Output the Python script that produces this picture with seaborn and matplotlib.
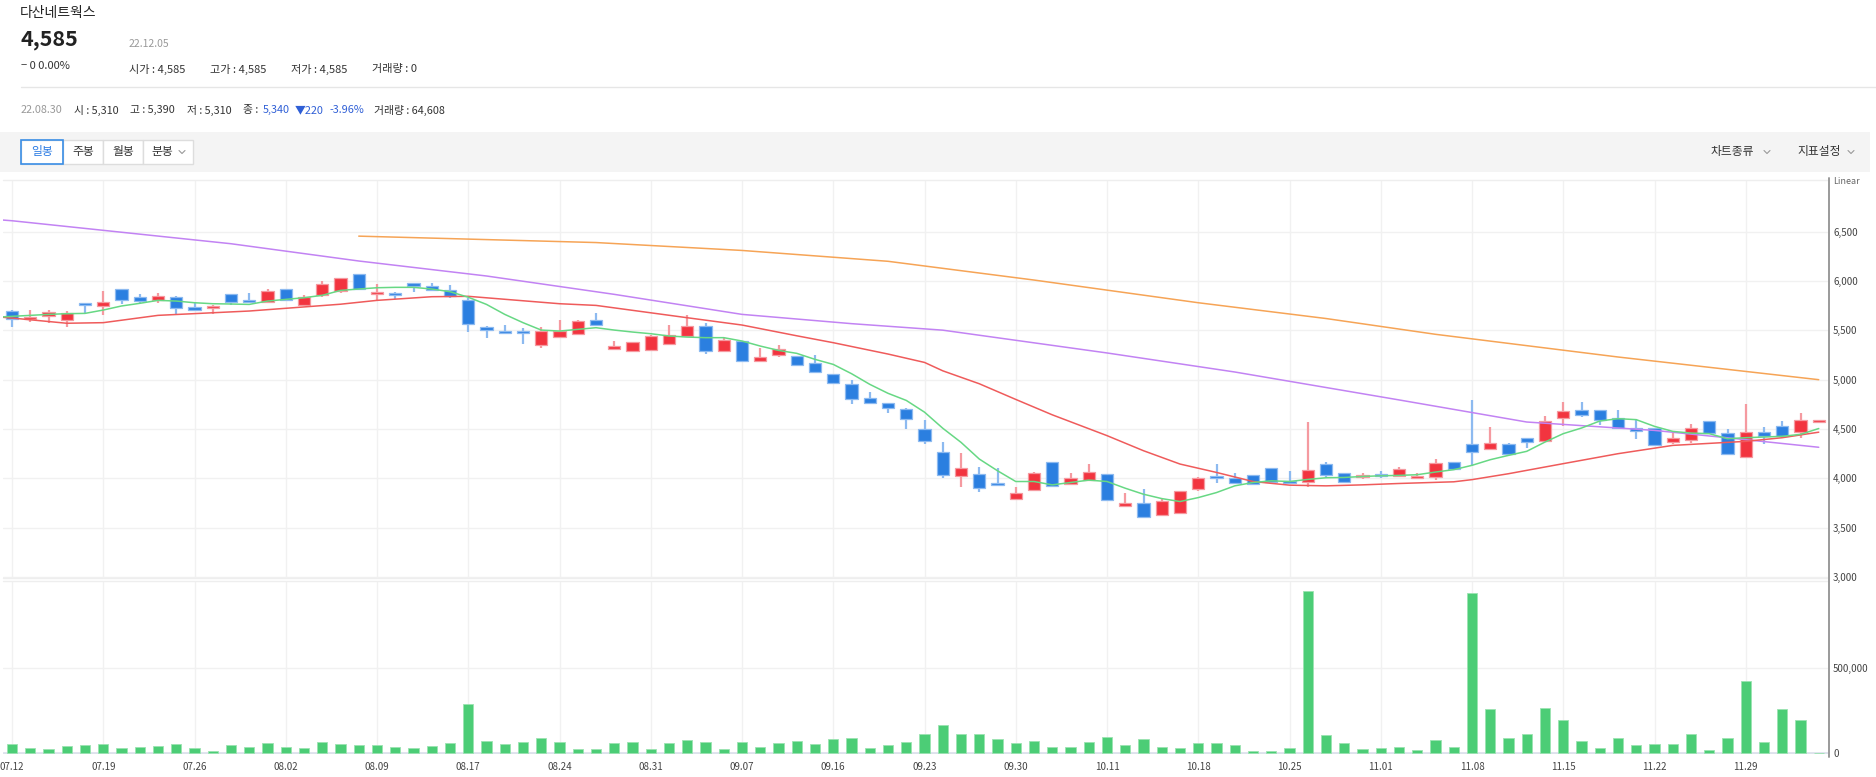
import numpy as np
import pandas as pd
import matplotlib
matplotlib.use("Agg")
import matplotlib.pyplot as plt
import seaborn as sns
from matplotlib.lines import Line2D
from matplotlib.patches import Rectangle

sns.set_theme(style="white")
plt.rcParams['font.family'] = ['Noto Sans CJK KR', 'DejaVu Sans']

# ---------------- data ----------------
dates = ["07.12","07.13","07.14","07.15","07.18","07.19","07.20","07.21","07.22","07.25",
         "07.26","07.27","07.28","07.29","08.01","08.02","08.03","08.04","08.05","08.08",
         "08.09","08.10","08.11","08.12","08.16","08.17","08.18","08.19","08.22","08.23",
         "08.24","08.25","08.26","08.29","08.30","08.31","09.01","09.02","09.05","09.06",
         "09.07","09.08","09.13","09.14","09.15","09.16","09.19","09.20","09.21","09.22",
         "09.23","09.26","09.27","09.28","09.29","09.30","10.04","10.05","10.06","10.07",
         "10.11","10.12","10.13","10.14","10.17","10.18","10.19","10.20","10.21","10.24",
         "10.25","10.26","10.27","10.28","10.31","11.01","11.02","11.03","11.04","11.07",
         "11.08","11.09","11.10","11.11","11.14","11.15","11.16","11.17","11.18","11.21",
         "11.22","11.23","11.24","11.25","11.28","11.29","11.30","12.01","12.02","12.05"]

opens = [5700,5615,5650,5600,5775,5750,5915,5835,5810,5835,
         5735,5730,5865,5805,5790,5915,5755,5855,5895,6075,
         5865,5870,5980,5945,5905,5805,5535,5490,5485,5355,
         5435,5465,5605,5315,5290,5305,5365,5445,5540,5290,
         5395,5190,5255,5245,5170,5060,4960,4815,4765,4705,
         4505,4265,4025,4040,3955,3790,3880,4170,3945,3985,
         4040,3715,3755,3625,3650,3890,4005,4005,4030,4105,
         3965,3960,4150,4050,4010,4035,4020,4005,4015,4165,
         4350,4300,4350,4410,4380,4615,4695,4695,4610,4510,
         4515,4370,4390,4580,4460,4215,4465,4535,4470,4585]
highs = [5705,5705,5705,5695,5780,5900,5915,5865,5880,5850,
         5775,5760,5865,5880,5915,5915,5860,6000,6035,6075,
         5965,5890,5980,5985,5960,5830,5540,5555,5525,5535,
         5600,5610,5680,5390,5380,5455,5555,5655,5575,5425,
         5395,5320,5350,5245,5255,5060,5000,4880,4765,4715,
         4590,4370,4255,4120,4100,3915,4060,4170,4050,4145,
         4040,3850,3890,3790,3870,4015,4150,4050,4030,4105,
         4070,4575,4165,4050,4055,4070,4110,4055,4200,4170,
         4790,4525,4360,4410,4630,4775,4775,4695,4695,4605,
         4515,4460,4555,4580,4500,4750,4520,4580,4665,4585]
lows = [5535,5585,5575,5535,5670,5655,5770,5775,5780,5660,
        5705,5670,5755,5790,5790,5795,5745,5840,5880,5915,
        5805,5815,5890,5905,5830,5485,5425,5465,5360,5320,
        5435,5465,5555,5315,5290,5305,5365,5445,5265,5290,
        5180,5190,5235,5140,5075,4965,4750,4760,4660,4505,
        4350,4000,3915,3860,3930,3790,3880,3910,3945,3985,
        3780,3715,3605,3625,3635,3870,3955,3950,3940,3960,
        3950,3910,4010,3965,3995,4000,4015,4005,3980,4080,
        4130,4300,4245,4310,4380,4535,4620,4545,4500,4400,
        4340,4350,4360,4460,4250,4210,4350,4410,4410,4585]
closes = [5620,5635,5690,5680,5760,5790,5805,5795,5845,5730,
          5705,5745,5790,5790,5900,5805,5840,5965,6035,5915,
          5890,5855,5945,5905,5850,5560,5505,5475,5470,5490,
          5495,5590,5555,5340,5380,5445,5450,5540,5290,5400,
          5190,5235,5315,5150,5075,4965,4800,4760,4715,4600,
          4375,4035,4100,3900,3930,3850,4050,3925,4000,4060,
          3780,3755,3605,3775,3870,4005,4000,3950,3940,3960,
          3950,4080,4035,3965,4035,4020,4090,4020,4160,4090,
          4270,4355,4245,4370,4580,4680,4645,4590,4515,4485,
          4340,4410,4515,4460,4250,4465,4425,4425,4590,4585]
volumes = [55000,31000,25000,43000,49000,55000,31000,37000,43000,55000,
           31000,14000,49000,37000,59000,37000,31000,67000,55000,49000,
           49000,37000,31000,43000,59000,290000,73000,55000,67000,90000,
           67000,25000,25000,59000,64608,25000,61000,78000,67000,25000,
           67000,37000,61000,73000,55000,84000,90000,31000,49000,67000,
           116000,165000,112000,116000,84000,61000,73000,37000,37000,67000,
           96000,49000,84000,37000,31000,59000,59000,49000,14000,14000,
           31000,953000,106000,61000,25000,31000,37000,20000,78000,37000,
           943000,259000,90000,112000,265000,196000,73000,31000,90000,49000,
           55000,55000,112000,20000,90000,424000,67000,259000,196000,0]

# moving averages (day index, value)
ma5_x = [-1,0,1,2,3,4,5,6,7,8,9,10,11,12,13,14,15,16,17,18,19,20,21,22,23,24,25,26,27,28,29,
         30,31,32,33,34,35,36,37,38,39,40,41,42,43,44,45,46,47,48,49,50,51,52,53,54,55,56,57,58,59,
         60,61,62,63,64,65,66,67,68,69,70,71,72,73,74,75,76,77,78,79,80,81,82,83,84,85,86,87,88,89,
         90,91,92,93,94,95,96,97,98,99]
ma5_y = [5632,5642,5652,5662,5669,5672,5706,5747,5774,5804,5797,5780,5770,5767,5763,5797,5814,5831,
         5855,5905,5919,5932,5936,5936,5919,5892,5836,5763,5662,5578,5503,5493,5510,5527,5503,5483,
         5466,5443,5432,5426,5426,5392,5341,5297,5267,5206,5155,5061,4953,4862,4790,4671,4508,4365,
         4196,4077,3968,3968,3934,3958,3982,3968,3900,3839,3795,3765,3805,3856,3924,3958,3975,3968,
         3989,4006,4009,4019,4026,4030,4037,4064,4088,4132,4189,4233,4274,4368,4453,4510,4581,4605,
         4595,4527,4476,4459,4453,4402,4412,4419,4426,4446,4505]
ma20_x = [-1,0,3,5,8,13,18,20,23,25,30,32,37,40,43,45,48,50,51,53,55,57,60,62,64,66,68,70,72,74,
          76,79,80,82,85,88,91,95,97,99]
ma20_y = [5640,5625,5572,5578,5652,5696,5765,5804,5841,5845,5770,5753,5628,5554,5445,5375,5260,
          5175,5090,4959,4800,4644,4433,4280,4145,4060,3968,3931,3924,3934,3948,3965,3987,4047,
          4149,4250,4334,4375,4412,4468]
ma60_x = [-1,0,12,19,26,33,40,46,51,60,67,76,83,90,95,99]
ma60_y = [6625,6611,6378,6203,6051,5865,5662,5568,5502,5271,5078,4795,4571,4486,4392,4315]
ma120_x = [19,32,40,48,56,65,72,78,88,99]
ma120_y = [6455,6390,6310,6200,6010,5780,5620,5460,5230,5000]

price_ticks = [3000,3500,4000,4500,5000,5500,6000,6500]
price_labels = ["3,000","3,500","4,000","4,500","5,000","5,500","6,000","6,500"]
vol_ticks = [0,500000]
vol_labels = ["0","500,000"]

# ---------------- figure ----------------
W, H = 1876, 777
fig = plt.figure(figsize=(W/100, H/100), dpi=100)
fig.patch.set_facecolor('white')

def fx(x): return x / W
def fy(y): return 1 - y / H
def txt(x, y, s, size, color='#333333', weight='normal', ha='left', va='center'):
    return fig.text(fx(x), fy(y), s, fontsize=size, color=color, fontweight=weight, ha=ha, va=va)
def chevron(x, y, color='#999999'):
    fig.add_artist(Line2D([fx(x-3), fx(x), fx(x+3)], [fy(y-1.5), fy(y+1.5), fy(y-1.5)],
                          transform=fig.transFigure, color=color, lw=0.8))

# header
txt(20, 13, "다산네트웍스", 10, '#222222')
txt(20, 40, "4,585", 15.5, '#222222', 'bold')
txt(129, 44, "22.12.05", 7.5, '#999999')
txt(21, 66, "− 0 0.00%", 8, '#333333')
txt(129, 69, "시가 : 4,585", 8)
txt(210, 69, "고가 : 4,585", 8)
txt(291, 69, "저가 : 4,585", 8)
txt(372, 69, "거래량 : 0", 8)
fig.add_artist(Line2D([fx(21), fx(1876)], [fy(87), fy(87)], transform=fig.transFigure, color='#e6e6e6', lw=1))
txt(21, 110, "22.08.30", 7.8, '#999999')
txt(74, 110, "시 : 5,310", 7.8)
txt(130, 110, "고 : 5,390", 7.8)
txt(187, 110, "저 : 5,310", 7.8)
txt(243, 110, "종 :", 7.8)
txt(263, 110, "5,340", 7.8, '#2f5fd6')
txt(295, 110, "▼220", 7.8, '#2f5fd6')
txt(329, 110, "-3.96%", 7.8, '#2f5fd6')
txt(374, 110, "거래량 : 64,608", 7.8)

# toolbar
fig.add_artist(Rectangle((0, fy(172)), fx(1870), (172-132)/H, transform=fig.transFigure,
                         facecolor='#f4f4f4', edgecolor='none'))
btns = [("일봉", 21, 63), ("주봉", 63, 103), ("월봉", 103, 143), ("분봉", 143, 193)]
for k, (lab, x0, x1) in enumerate(btns):
    fig.add_artist(Rectangle((fx(x0), fy(164)), fx(x1) - fx(x0), 24/H, transform=fig.transFigure,
                             facecolor='white', edgecolor='#dddddd', lw=1))
for k, (lab, x0, x1) in enumerate(btns):
    if k == 0:
        fig.add_artist(Rectangle((fx(x0), fy(164)), fx(x1) - fx(x0), 24/H, transform=fig.transFigure,
                                 facecolor='none', edgecolor='#3a8ee6', lw=1.2))
        txt((x0 + x1) / 2, 152, lab, 8.5, '#2a7ae2', ha='center')
    elif k == 3:
        txt(x0 + 8, 152, lab, 8.5, '#333333')
        chevron(x0 + 39, 152)
    else:
        txt((x0 + x1) / 2, 152, lab, 8.5, '#333333', ha='center')
txt(1711, 151, "차트종류", 8.5, '#333333')
chevron(1767, 152)
txt(1797, 151, "지표설정", 8.5, '#333333')
chevron(1851, 152)

# ---------------- price panel ----------------
X0, XR = 3, 1829
step = 18.25
xlim = ((X0 - 12) / step, (XR - 12) / step)
ax = fig.add_axes([fx(X0), fy(578), fx(XR) - fx(X0), (578 - 180) / H])
ax.set_xlim(*xlim)
ax.set_ylim(2990, 7024)
tick_idx = list(range(0, 100, 5))
ax.set_xticks(tick_idx)
ax.set_xticklabels([])
ax.tick_params(axis='x', length=0)
ax.set_yticks(price_ticks)
ax.set_yticklabels(price_labels)
ax.yaxis.tick_right()
ax.tick_params(axis='y', length=0, pad=3, labelsize=7, labelcolor='#444444')
ax.grid(True, color='#f1f1f1', lw=1)
for s in ax.spines.values():
    s.set_visible(False)
ax.set_facecolor('none')

red, blue = '#f2343f', '#2b7fe0'
red_l, blue_l = '#f59aa0', '#8dbaf0'
idx = np.arange(len(dates))
up = [c >= o for o, c in zip(opens, closes)]
for i in idx:
    col = red if up[i] else blue
    coll = red_l if up[i] else blue_l
    ax.vlines(i, lows[i], highs[i], color=coll, lw=1.6, zorder=3)
    bot = min(opens[i], closes[i])
    hgt = max(abs(closes[i] - opens[i]), 20)
    ax.bar(i, hgt, bottom=bot - (10 if opens[i] == closes[i] else 0), width=0.66,
           color=col, edgecolor=coll, lw=0.9, zorder=4)

sns.lineplot(x=ma120_x, y=ma120_y, ax=ax, color='#f6a456', lw=1.1, estimator=None, sort=False, zorder=5)
sns.lineplot(x=ma60_x, y=ma60_y, ax=ax, color='#c283f3', lw=1.1, estimator=None, sort=False, zorder=5)
sns.lineplot(x=ma20_x, y=ma20_y, ax=ax, color='#ef5b5b', lw=1.1, estimator=None, sort=False, zorder=5)
sns.lineplot(x=ma5_x, y=ma5_y, ax=ax, color='#67d884', lw=1.1, estimator=None, sort=False, zorder=6)
ax.set_xlim(*xlim)
ax.set_ylim(2990, 7024)
ax.set_xlabel(''); ax.set_ylabel('')

# ---------------- volume panel ----------------
axv = fig.add_axes([fx(X0), fy(754), fx(XR) - fx(X0), (754 - 581) / H])
vdf = pd.DataFrame({'i': idx, 'v': volumes})
sns.barplot(data=vdf, x='i', y='v', ax=axv, native_scale=True, color='#4ccd76', saturation=1,
            width=0.55, edgecolor='#9be3b1', linewidth=0.6, zorder=3)
axv.set_xlim(*xlim)
axv.set_ylim(-4000, 1013500)
axv.set_xticks(tick_idx)
axv.set_xticklabels([dates[k] for k in tick_idx])
axv.tick_params(axis='x', length=4, width=1, color='#d5d9e2', pad=2, labelsize=7, labelcolor='#444444')
axv.set_yticks(vol_ticks)
axv.set_yticklabels(vol_labels)
axv.yaxis.tick_right()
axv.tick_params(axis='y', length=0, pad=3, labelsize=7, labelcolor='#444444')
axv.grid(True, color='#f1f1f1', lw=1)
for s in axv.spines.values():
    s.set_visible(False)
axv.axhline(0, color='#dde2ec', lw=2, zorder=2)
axv.set_xlabel(''); axv.set_ylabel('')
axv.set_facecolor('none')

# frame lines
fig.add_artist(Line2D([fx(3), fx(1829)], [fy(180), fy(180)], transform=fig.transFigure, color='#eeeeee', lw=1))
fig.add_artist(Line2D([fx(3), fx(1829)], [fy(578), fy(578)], transform=fig.transFigure, color='#eeeeee', lw=1))
fig.add_artist(Line2D([fx(3), fx(1829)], [fy(581), fy(581)], transform=fig.transFigure, color='#eeeeee', lw=1))
fig.add_artist(Line2D([fx(1829), fx(1829)], [fy(178), fy(757)], transform=fig.transFigure, color='#9a9a9a', lw=1.4))
txt(1833, 182, "Linear", 6.5, '#666666')

fig.savefig("out.png", dpi=100, facecolor='white')
